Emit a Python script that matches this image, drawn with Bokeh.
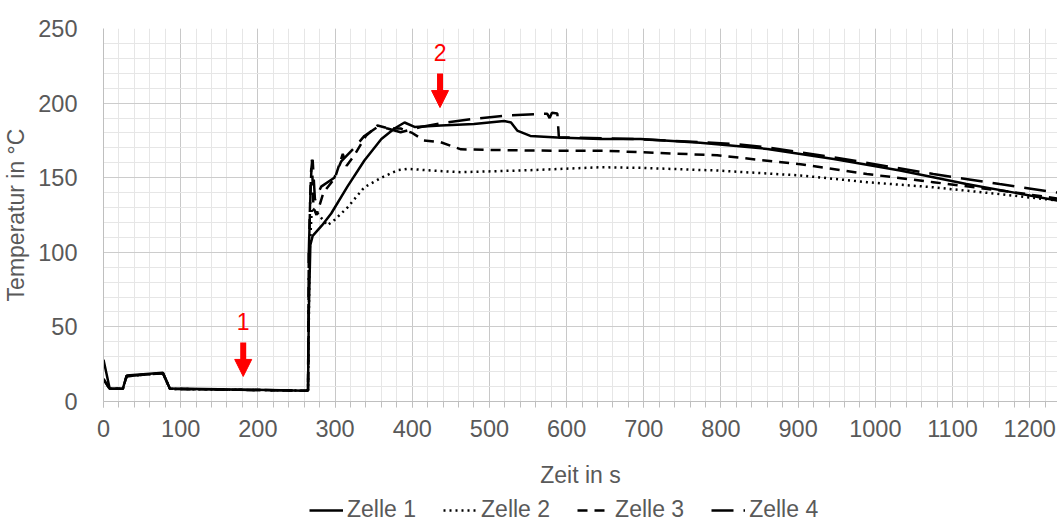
from bokeh.plotting import figure
from bokeh.layouts import column
from bokeh.models import (Range1d, SingleIntervalTicker, Legend, LegendItem, Arrow,
                          NormalHead, Label)
from bokeh.embed import file_html
from bokeh.resources import INLINE

# ---------------- data ----------------
t1 = [0, 8, 25, 30, 77, 86, 150, 230, 262, 265, 266, 268, 271, 283, 295, 316, 338, 360,
      377, 390, 403, 437, 480, 519, 528, 536, 553, 588, 644, 696, 773, 860, 946, 1032,
      1118, 1180, 1236]
T1 = [28, 8.7, 8.5, 17.4, 19.2, 8.7, 8.2, 7.5, 7.2, 7.5, 60, 105, 111, 118, 126, 144,
      161.5, 176, 183, 187, 184, 185, 186, 188, 187, 181.6, 178, 177, 176, 176, 173.5,
      169.3, 162.6, 154.8, 145.8, 140, 134.7]

t2 = [0, 8, 25, 30, 77, 86, 150, 230, 262, 265, 267, 270, 278, 290, 300, 316, 338, 360,
      381, 394, 424, 463, 550, 644, 696, 795, 903, 989, 1075, 1161, 1236]
T2 = [15, 8.5, 8.5, 17, 19, 8.5, 8, 7.5, 7.2, 7.5, 100, 130, 125.7, 118, 122, 130, 143.6,
      150, 155, 156, 154.8, 153.7, 155, 157, 156.6, 154.8, 151.5, 147, 143.6, 139, 134.7]

t3 = [0, 8, 25, 30, 77, 86, 150, 230, 262, 265, 266, 268, 270, 272, 276, 285, 300, 310,
      315, 325, 340, 355, 370, 385, 400, 415, 437, 463, 550, 652, 795, 903, 989, 1075,
      1183, 1236]
T3 = [15, 8.5, 8.5, 17, 19, 8.5, 8, 7.5, 7.2, 7.5, 100, 140, 162, 130, 125, 140, 150, 166,
      158, 165, 178, 185, 183, 183, 180, 175, 173.8, 169, 168.2, 168, 165, 159, 152.5,
      147, 140, 136]

t4 = [0, 8, 25, 30, 77, 86, 150, 230, 262, 265, 266, 269, 271, 274, 282, 299, 308, 325,
      338, 355, 368, 385, 411, 437, 480, 523, 566, 575, 578, 581, 588, 590, 600, 687, 816,
      860, 946, 1075, 1161, 1236]
T4 = [15, 8.5, 8.5, 17, 19, 8.5, 8, 7.5, 7.2, 7.5, 100, 155, 162, 135, 144, 150, 161, 170,
      178, 184, 183, 180.5, 184, 186.5, 189.5, 191.7, 192.8, 192.8, 190, 193.5, 193, 177,
      177, 176, 172.7, 170.4, 163.7, 152.5, 145.8, 140]

series_names = ["Zelle 1", "Zelle 2", "Zelle 3", "Zelle 4"]
series_dash = ["solid", "2 4", "10 7", "22 10"]

# annotation arrows (time in s, temperature start/end, label)
arrow_t = [181, 436]
arrow_top = [39.5, 219.8]
arrow_tip = [16.8, 197]
arrow_label_y = [53.6, 233.6]
arrow_labels = ["1", "2"]

x_ticks_interval = 100
y_ticks_interval = 50

# ---------------- figure ----------------
FONT = "Liberation Sans"
GREY = "#595959"

p = figure(width=1057, height=496, output_backend="svg", toolbar_location=None,
           x_range=Range1d(0, 1236), y_range=Range1d(0, 250),
           min_border_left=102, min_border_right=0, min_border_top=28,
           min_border_bottom=95)
p.outline_line_color = None
p.background_fill_color = "white"
p.border_fill_color = "white"

p.xaxis.ticker = SingleIntervalTicker(interval=x_ticks_interval, num_minor_ticks=5)
p.yaxis.ticker = SingleIntervalTicker(interval=y_ticks_interval, num_minor_ticks=5)

p.xgrid.grid_line_color = "#c8c8c8"
p.ygrid.grid_line_color = "#cccccc"
p.xgrid.minor_grid_line_color = "#e6e6e6"
p.ygrid.minor_grid_line_color = "#e6e6e6"

for ax in (p.xaxis[0], p.yaxis[0]):
    ax.axis_line_color = "#bfbfbf"
    ax.major_label_text_font = FONT
    ax.major_label_text_font_size = "23.5px"
    ax.major_label_text_color = GREY
    ax.axis_label_text_font = FONT
    ax.axis_label_text_font_size = "23px"
    ax.axis_label_text_color = GREY
    ax.axis_label_text_font_style = "normal"

p.xaxis.major_tick_line_color = "#bfbfbf"
p.xaxis.minor_tick_line_color = "#bfbfbf"
p.xaxis.major_tick_out = 6
p.xaxis.major_tick_in = 0
p.xaxis.minor_tick_out = 6
p.xaxis.minor_tick_in = 0
p.xaxis.major_label_standoff = 12
p.xaxis.axis_label = "Zeit in s"
p.xaxis.axis_label_standoff = 22

p.yaxis.major_tick_line_color = None
p.yaxis.minor_tick_line_color = None
p.yaxis.major_label_standoff = 20
p.yaxis.axis_label = "Temperatur in °C"
p.yaxis.axis_label_standoff = 6

series = [(t1, T1), (t2, T2), (t3, T3), (t4, T4)]
for (tx, ty), d in zip(series, series_dash):
    p.line(tx, ty, line_color="black", line_width=2.5, line_dash=d)

for i in range(len(arrow_t)):
    p.add_layout(Arrow(x_start=arrow_t[i], y_start=arrow_top[i], x_end=arrow_t[i],
                       y_end=arrow_tip[i], line_color="#ff0000", line_width=6,
                       end=NormalHead(size=17, fill_color="#ff0000",
                                      line_color="#ff0000", line_width=1)))
    p.add_layout(Label(x=arrow_t[i], y=arrow_label_y[i], text=arrow_labels[i],
                       text_color="#ff0000", text_font=FONT, text_font_size="23px",
                       text_align="center", text_baseline="middle"))

# ---------------- legend strip below ----------------
# same series drawn into a strip whose y-range excludes them: only the legend shows
lg = figure(width=1057, height=27, output_backend="svg", toolbar_location=None,
            x_axis_type=None, y_axis_type=None, x_range=Range1d(0, 1236),
            y_range=Range1d(-2, -1), min_border=0, min_border_left=0,
            min_border_right=0, min_border_top=0, min_border_bottom=0)
lg.outline_line_color = None
lg.grid.visible = False
leg_renderers = [lg.line(tx, ty, line_color="black", line_width=2.5, line_dash=d)
                 for (tx, ty), d in zip(series, series_dash)]
legend = Legend(items=[LegendItem(label=n, renderers=[r]) for n, r in
                       zip(series_names, leg_renderers)],
                orientation="horizontal", location=(206, 0),
                label_text_font=FONT, label_text_font_size="23px",
                label_text_color=GREY, glyph_width=34, label_standoff=4,
                spacing=27, padding=0, margin=0, border_line_color=None,
                background_fill_alpha=0)
lg.add_layout(legend, "center")

layout = column(p, lg, spacing=0)
open("out.html", "w").write(file_html(layout, INLINE))
